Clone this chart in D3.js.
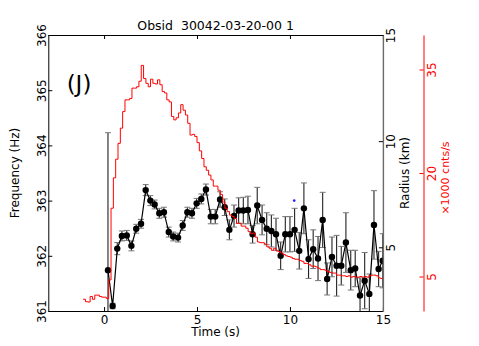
<!DOCTYPE html>
<html>
<head>
<meta charset="utf-8">
<script src="https://cdn.jsdelivr.net/npm/d3@7"></script>
<style>
  body { margin: 0; background: #fff; }
  text { font-family: "DejaVu Sans", sans-serif; }
</style>
</head>
<body>
<div id="chart"></div>
<script>
// frequency track (black points with error bars)
const freqTime = [0.21, 0.46, 0.71, 0.96, 1.22, 1.47, 1.73, 1.99, 2.24, 2.49, 2.72, 2.97, 3.22, 3.48, 3.72, 3.98,
	4.23, 4.48, 4.73, 4.98, 5.23, 5.48, 5.74, 5.98, 6.24, 6.49, 6.74, 6.99, 7.24, 7.49, 7.74, 7.99, 8.24, 8.50,
	8.75, 9.0, 9.25, 9.5, 9.75, 10.0, 10.25, 10.5, 10.75, 11.0, 11.25, 11.51, 11.76, 12.0, 12.26, 12.51, 12.76,
	13.01, 13.27, 13.51, 13.77, 14.02, 14.27, 14.52, 14.77, 14.99];
const freqHz = [361.74, 361.09, 362.13, 362.36, 362.37, 362.18, 362.49, 362.58, 363.19, 363.0, 362.93, 362.77,
	362.79, 362.43, 362.35, 362.33, 362.55, 362.79, 362.77, 362.95, 363.03, 363.2, 362.71, 362.71, 363.02, 362.88,
	362.47, 362.72, 362.82, 362.82, 362.83, 362.39, 362.91, 362.65, 362.49, 362.45, 362.39, 362.0, 362.39, 362.39,
	362.47, 362.09, 362.86, 361.94, 362.12, 361.95, 362.65, 361.58, 361.98, 361.82, 361.82, 362.24, 361.74, 361.77,
	361.28, 361.55, 361.31, 362.56, 361.76, 361.91];
const freqErr = [2.49, 0.05, 0.11, 0.09, 0.09, 0.09, 0.08, 0.08, 0.1, 0.09, 0.08, 0.09, 0.09, 0.09, 0.08, 0.08,
	0.09, 0.09, 0.09, 0.09, 0.09, 0.1, 0.13, 0.13, 0.14, 0.15, 0.18, 0.2, 0.23, 0.24, 0.25, 0.16, 0.33, 0.27, 0.29,
	0.29, 0.29, 0.25, 0.32, 0.32, 0.39, 0.33, 0.46, 0.35, 0.35, 0.4, 0.5, 0.29, 0.36, 0.55, 0.35, 0.54, 0.36, 0.33,
	0.32, 0.51, 0.36, 0.62, 0.32, 0.49];

// count rate light curve, x1000 cnts/s, 0.125 s bins
const rateStart = -1.125;
const rateBin = 0.125;
const rate = [1.7, 1.35, 1.3, 2.1, 1.7, 2.3, 2.3, 2.1, 2.0, 2.0, 1.8,
	4.5, 14.9, 19.3, 22.0, 24.3, 26.5, 28.9, 30.6, 30.6, 30.8, 32.3, 32.3, 32.5, 33.3, 35.6, 33.7, 33.0, 32.5,
	33.6, 33.0, 32.9, 33.5, 32.8, 31.8, 31.6, 30.6, 30.3, 28.2, 27.7, 28.0, 28.7, 29.9, 29.1, 28.4, 27.2, 25.5,
	25.6, 25.3, 24.4, 23.2, 22.1, 20.9, 20.4, 19.7, 19.0, 18.1, 18.1, 17.5, 16.9, 15.8, 14.9, 14.4, 13.9, 13.7,
	13.4, 12.7, 12.7, 12.3, 12.3, 12.0, 11.5, 11.2, 11.3, 10.7, 10.0, 9.9, 9.9, 9.7, 9.3, 9.1, 8.8, 9.1, 8.7, 8.6,
	8.4, 8.2, 8.0, 7.9, 7.8, 7.6, 7.5, 7.5, 7.3, 7.2, 6.9, 6.9, 6.7, 6.5, 6.5, 6.4, 6.2, 6.0, 6.0, 5.9, 5.7, 5.6,
	5.5, 5.5, 5.2, 5.2, 5.1, 5.1, 5.0, 5.1, 4.9, 5.0, 4.9, 4.9, 5.0, 4.9, 5.0, 4.9, 5.1, 5.2, 5.2, 5.1, 4.8, 4.7];

// single radius marker
const radiusTime = [10.23];
const radiusKm = [7.2];

const timeTicks = [0, 5, 10, 15];
const freqTicks = [361, 362, 363, 364, 365, 366];
const radiusTicks = [5, 10, 15];
const rateTicks = [5, 20, 35];

const W = 479, H = 346;
const margin = { left: 48.3, right: 382.9, top: 35, bottom: 311 };
const redAxisX = 423.5;

const svg = d3.select("#chart").append("svg")
	.attr("width", W).attr("height", H);

const x = d3.scaleLinear().domain([-3, 15]).range([margin.left, margin.right]);
const yF = d3.scaleLinear().domain([361, 366]).range([margin.bottom, margin.top]);
const yR = d3.scaleLinear().domain([2, 15]).range([margin.bottom, margin.top]);
const yC = d3.scaleLinear().domain([0, 40]).range([margin.bottom, margin.top]);

svg.append("defs").append("clipPath").attr("id", "plot")
	.append("rect").attr("x", margin.left).attr("y", margin.top)
	.attr("width", margin.right - margin.left).attr("height", margin.bottom - margin.top);

const plot = svg.append("g").attr("clip-path", "url(#plot)");

// frequency points
const pts = freqTime.map((t, i) => ({ t: t, f: freqHz[i], e: freqErr[i] }));

const eb = plot.append("g");
pts.forEach(d => {
	const cx = x(d.t);
	eb.append("line").attr("x1", cx).attr("x2", cx)
		.attr("y1", yF(d.f - d.e)).attr("y2", yF(d.f + d.e))
		.attr("stroke", "#222").attr("stroke-width", 1.1);
	[d.f - d.e, d.f + d.e].forEach(v => {
		eb.append("line").attr("x1", cx - 3).attr("x2", cx + 3)
			.attr("y1", yF(v)).attr("y2", yF(v))
			.attr("stroke", "#777").attr("stroke-width", 1);
	});
});

plot.append("path").datum(pts)
	.attr("fill", "none").attr("stroke", "#000").attr("stroke-width", 1.2)
	.attr("d", d3.line().x(d => x(d.t)).y(d => yF(d.f)));

plot.append("g").selectAll("circle").data(pts).enter().append("circle")
	.attr("cx", d => x(d.t)).attr("cy", d => yF(d.f)).attr("r", 3.2)
	.attr("fill", "#000");

// radius marker
plot.append("g").selectAll("circle").data(radiusTime).enter().append("circle")
	.attr("cx", d => x(d)).attr("cy", (d, i) => yR(radiusKm[i])).attr("r", 1.3)
	.attr("fill", "#1f1fff");

// light curve steps
const steps = rate.map((v, i) => [rateStart + i * rateBin, v]);
steps.push([15, rate[rate.length - 1]]);
plot.append("path").datum(steps)
	.attr("fill", "none").attr("stroke", "#ff0000").attr("stroke-width", 1)
	.attr("d", d3.line().curve(d3.curveStepAfter).x(d => x(d[0])).y(d => yC(d[1])));

// axes
function styleAxis(g, color) {
	g.select(".domain").attr("stroke", color);
	g.selectAll(".tick line").attr("stroke", color);
	g.selectAll(".tick text").attr("fill", color)
		.style("font-family", "DejaVu Sans").style("font-size", "12px");
}

const gx = svg.append("g").attr("transform", `translate(0,${margin.bottom})`)
	.call(d3.axisBottom(x).tickValues(timeTicks).tickSizeInner(-4).tickSizeOuter(0).tickPadding(4));
styleAxis(gx, "#000");

const gxt = svg.append("g").attr("transform", `translate(0,${margin.top})`)
	.call(d3.axisTop(x).tickValues(timeTicks).tickSizeInner(-4).tickSizeOuter(0).tickFormat(""));
styleAxis(gxt, "#000");

const gl = svg.append("g").attr("transform", `translate(${margin.left},0)`)
	.call(d3.axisLeft(yF).tickValues(freqTicks).tickSizeInner(-4).tickSizeOuter(0).tickFormat(d3.format("d")));
styleAxis(gl, "#000");
gl.selectAll(".tick text").attr("x", null).attr("dy", null)
	.attr("text-anchor", "middle").attr("transform", "translate(-2.5,0) rotate(-90)");

const gr = svg.append("g").attr("transform", `translate(${margin.right},0)`)
	.call(d3.axisRight(yR).tickValues(radiusTicks).tickSizeInner(-4).tickSizeOuter(0));
styleAxis(gr, "#000");
gr.select(".domain").attr("stroke", "#6b6b6b").attr("stroke-width", 1.4);
gr.selectAll(".tick text").attr("x", null).attr("dy", null)
	.attr("text-anchor", "middle").attr("transform", "translate(12.5,0) rotate(-90)");

const gc = svg.append("g").attr("transform", `translate(${redAxisX},0)`)
	.call(d3.axisRight(yC).tickValues(rateTicks).tickSizeInner(-4).tickSizeOuter(0));
styleAxis(gc, "#ff0000");
gc.selectAll(".tick text").attr("x", null).attr("dy", null)
	.attr("text-anchor", "middle").attr("transform", "translate(12,0) rotate(-90)");

// labels
const midY = (margin.top + margin.bottom) / 2;
svg.append("text").attr("x", (margin.left + margin.right) / 2).attr("y", 29.5)
	.attr("text-anchor", "middle").style("font-size", "12.5px").style("white-space", "pre")
	.text("Obsid  30042-03-20-00 1");

svg.append("text").attr("x", (margin.left + margin.right) / 2).attr("y", 336)
	.attr("text-anchor", "middle").style("font-size", "12px")
	.text("Time (s)");

svg.append("text").attr("transform", `translate(19,${midY}) rotate(-90)`)
	.attr("text-anchor", "middle").style("font-size", "12px")
	.text("Frequency (Hz)");

svg.append("text").attr("transform", `translate(409,${midY}) rotate(-90)`)
	.attr("text-anchor", "middle").style("font-size", "12px")
	.text("Radius (km)");

svg.append("text").attr("transform", `translate(449,${midY + 5}) rotate(-90)`)
	.attr("text-anchor", "middle").style("font-size", "11px").attr("fill", "#ff0000")
	.text("×1000 cnts/s");

svg.append("text").attr("x", 79).attr("y", 92)
	.attr("text-anchor", "middle").style("font-size", "23px")
	.text("(J)");
</script>
</body>
</html>
